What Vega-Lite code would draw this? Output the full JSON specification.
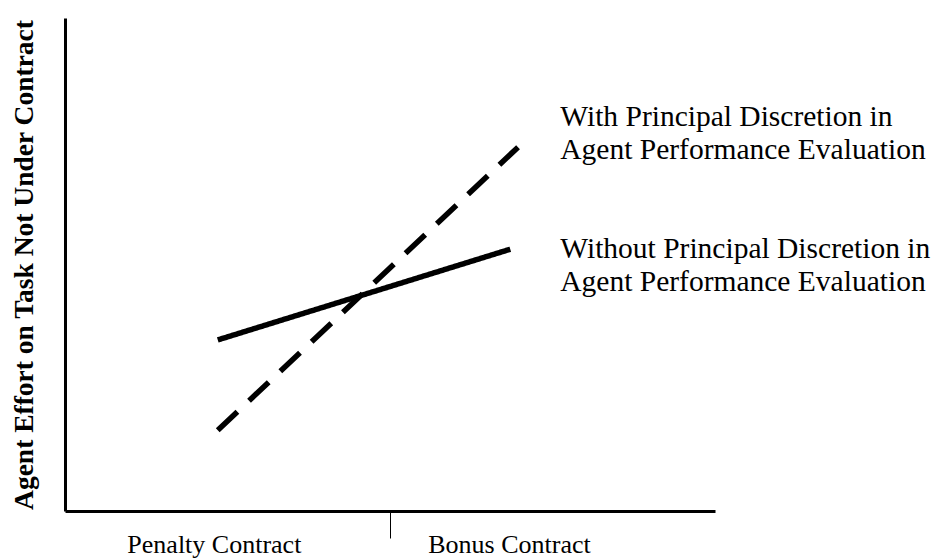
{
  "$schema": "https://vega.github.io/schema/vega-lite/v6.json",
  "width": 650,
  "height": 493,
  "autosize": "none",
  "padding": {"left": 65, "top": 18, "right": 221, "bottom": 49},
  "background": "white",
  "config": {
    "view": {"stroke": null},
    "font": "Liberation Serif"
  },
  "datasets": {
    "lines": [
      {"series": "With", "contract": 0.235, "effort": 0.164},
      {"series": "With", "contract": 0.697, "effort": 0.738},
      {"series": "Without", "contract": 0.235, "effort": 0.347},
      {"series": "Without", "contract": 0.685, "effort": 0.531}
    ],
    "labels": [
      {"contract": 0.762, "effort": 0.78, "text": ["With Principal Discretion in", "Agent Performance Evaluation"]},
      {"contract": 0.762, "effort": 0.514, "text": ["Without Principal Discretion in", "Agent Performance Evaluation"]}
    ]
  },
  "layer": [
    {
      "data": {"name": "lines"},
      "mark": {"type": "line", "color": "black", "strokeWidth": 5.5},
      "encoding": {
        "x": {
          "field": "contract", "type": "quantitative",
          "scale": {"domain": [0, 1], "nice": false, "zero": false},
          "axis": {
            "title": null,
            "values": [0.229, 0.5, 0.683],
            "labelExpr": "datum.value < 0.4 ? 'Penalty Contract' : (datum.value > 0.6 ? 'Bonus Contract' : '')",
            "labelFont": "Liberation Serif",
            "labelFontSize": 26,
            "labelColor": "black",
            "labelPadding": 14,
            "labelBaseline": "alphabetic",
            "labelFlush": false,
            "labelOverlap": false,
            "labelLimit": 0,
            "domainColor": "black",
            "domainWidth": 3,
            "tickColor": "black",
            "tickWidth": 1,
            "tickSize": 27,
            "tickOpacity": {"condition": {"test": "datum.value == 0.5", "value": 1}, "value": 0},
            "grid": false
          }
        },
        "y": {
          "field": "effort", "type": "quantitative",
          "scale": {"domain": [0, 1], "nice": false, "zero": false},
          "axis": {
            "title": "Agent Effort on Task Not Under Contract",
            "titleFont": "Liberation Serif",
            "titleFontSize": 27.5,
            "titleFontWeight": "bold",
            "titleColor": "black",
            "titlePadding": 27,
            "labels": false,
            "ticks": false,
            "grid": false,
            "domainColor": "black",
            "domainWidth": 3
          }
        },
        "detail": {"field": "series"},
        "strokeDash": {
          "field": "series", "type": "nominal",
          "scale": {"domain": ["With", "Without"], "range": [[27, 16], [1, 0]]},
          "legend": null
        }
      }
    },
    {
      "data": {"name": "labels"},
      "mark": {"type": "text", "align": "left", "baseline": "alphabetic", "font": "Liberation Serif", "fontSize": 29.5, "lineHeight": 33, "color": "black"},
      "encoding": {
        "x": {"field": "contract", "type": "quantitative"},
        "y": {"field": "effort", "type": "quantitative"},
        "text": {"field": "text"}
      }
    }
  ]
}
